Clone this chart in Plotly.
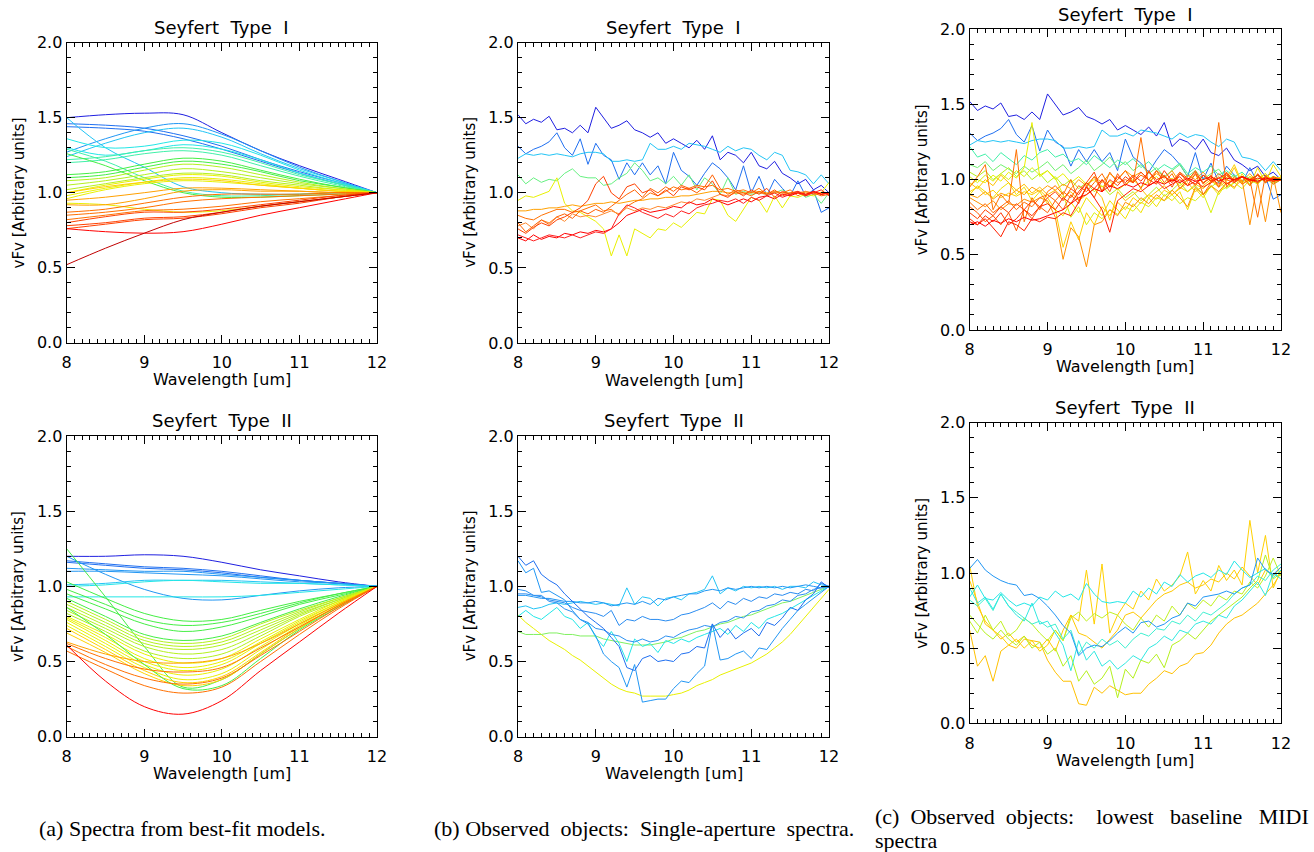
import plotly.graph_objects as go

# ---------------- DATA ----------------
WL_MODEL = [8.0, 8.5, 9.0, 9.5, 10.0, 10.5, 11.0, 11.5, 12.0]
WL_OBS = [8.0, 8.1, 8.2, 8.3, 8.4, 8.5, 8.6, 8.7, 8.8, 8.9,
          9.0, 9.1, 9.2, 9.3, 9.4, 9.5, 9.6, 9.7, 9.8, 9.9,
          10.0, 10.1, 10.2, 10.3, 10.4, 10.5, 10.6, 10.7, 10.8, 10.9,
          11.0, 11.1, 11.2, 11.3, 11.4, 11.5, 11.6, 11.7, 11.8, 11.9,
          12.0]

# colour names (IDL rainbow-like)
DB, MB, AZ, LB, CY = "#1f1fe0", "#1f6ff0", "#2196f3", "#22c4f5", "#22e6e6"
AQ, GR, YG, YE, GO = "#40f0a8", "#44ee44", "#b4f01e", "#e8f000", "#ffd000"
OR, DO, RO, RE, DR = "#ffa000", "#ff7000", "#ff4000", "#ff0000", "#c00000"

# (a) models, Seyfert type I
MODEL_T1 = [
    [1.50, 1.52, 1.53, 1.52, 1.40, 1.28, 1.18, 1.09, 1.00],
    [1.46, 1.45, 1.43, 1.38, 1.31, 1.22, 1.14, 1.07, 1.00],
    [1.44, 1.43, 1.41, 1.36, 1.29, 1.21, 1.13, 1.06, 1.00],
    [1.27, 1.36, 1.43, 1.46, 1.39, 1.28, 1.17, 1.08, 1.00],
    [1.24, 1.33, 1.40, 1.43, 1.37, 1.26, 1.16, 1.08, 1.00],
    [1.50, 1.30, 1.17, 1.04, 1.00, 0.99, 0.99, 1.00, 1.00],
    [1.36, 1.30, 1.31, 1.35, 1.33, 1.25, 1.15, 1.07, 1.00],
    [1.30, 1.25, 1.28, 1.32, 1.29, 1.22, 1.13, 1.06, 1.00],
    [1.22, 1.24, 1.28, 1.30, 1.27, 1.20, 1.12, 1.06, 1.00],
    [1.20, 1.22, 1.26, 1.28, 1.25, 1.18, 1.11, 1.05, 1.00],
    [1.29, 1.21, 1.10, 1.01, 0.98, 0.98, 0.99, 1.00, 1.00],
    [1.26, 1.18, 1.08, 1.00, 0.97, 0.97, 0.98, 0.99, 1.00],
    [1.12, 1.14, 1.19, 1.23, 1.21, 1.15, 1.09, 1.04, 1.00],
    [1.10, 1.12, 1.17, 1.21, 1.19, 1.14, 1.08, 1.04, 1.00],
    [1.08, 1.10, 1.15, 1.19, 1.17, 1.12, 1.07, 1.03, 1.00],
    [1.05, 1.08, 1.12, 1.16, 1.14, 1.10, 1.06, 1.03, 1.00],
    [1.02, 1.06, 1.10, 1.13, 1.12, 1.08, 1.05, 1.02, 1.00],
    [1.00, 1.05, 1.09, 1.12, 1.11, 1.07, 1.04, 1.02, 1.00],
    [0.98, 1.03, 1.07, 1.10, 1.09, 1.06, 1.03, 1.01, 1.00],
    [0.96, 1.02, 1.06, 1.08, 1.07, 1.05, 1.03, 1.01, 1.00],
    [0.93, 0.92, 0.89, 0.87, 0.88, 0.91, 0.94, 0.97, 1.00],
    [1.00, 1.04, 1.07, 1.09, 1.08, 1.05, 1.03, 1.01, 1.00],
    [0.95, 0.97, 1.00, 1.03, 1.03, 1.02, 1.01, 1.00, 1.00],
    [0.92, 0.92, 0.96, 1.01, 1.02, 1.01, 1.01, 1.00, 1.00],
    [0.87, 0.89, 0.93, 0.97, 0.99, 0.99, 0.99, 1.00, 1.00],
    [0.85, 0.87, 0.90, 0.94, 0.96, 0.97, 0.98, 0.99, 1.00],
    [0.82, 0.85, 0.88, 0.89, 0.91, 0.94, 0.96, 0.98, 1.00],
    [0.80, 0.84, 0.87, 0.87, 0.89, 0.92, 0.95, 0.98, 1.00],
    [0.78, 0.80, 0.83, 0.84, 0.87, 0.91, 0.94, 0.97, 1.00],
    [0.76, 0.79, 0.82, 0.83, 0.86, 0.90, 0.93, 0.97, 1.00],
    [0.76, 0.74, 0.73, 0.74, 0.79, 0.85, 0.90, 0.95, 1.00],
    [0.52, 0.63, 0.73, 0.82, 0.87, 0.91, 0.94, 0.97, 1.00],
]
MODEL_T1_COLORS = [DB, MB, MB, AZ, LB, LB, CY, CY, AQ, AQ, AQ, GR, GR, GR, YG, YG,
                   YG, YE, YE, YE, YE, GO, OR, OR, DO, DO, DO, RO, RO, RO, RE, DR]

# (a) models, Seyfert type II
MODEL_T2 = [
    [1.20, 1.20, 1.21, 1.20, 1.16, 1.11, 1.07, 1.03, 1.00],
    [1.17, 1.15, 1.13, 1.12, 1.10, 1.07, 1.04, 1.02, 1.00],
    [1.16, 1.14, 1.12, 1.11, 1.09, 1.06, 1.04, 1.02, 1.00],
    [1.12, 1.11, 1.10, 1.10, 1.08, 1.06, 1.04, 1.02, 1.00],
    [1.10, 1.10, 1.09, 1.08, 1.07, 1.05, 1.03, 1.02, 1.00],
    [1.20, 1.08, 0.98, 0.92, 0.91, 0.94, 0.97, 0.99, 1.00],
    [1.01, 1.02, 1.04, 1.04, 1.04, 1.03, 1.02, 1.01, 1.00],
    [1.00, 1.01, 1.03, 1.04, 1.03, 1.02, 1.02, 1.01, 1.00],
    [0.93, 0.93, 0.93, 0.93, 0.93, 0.94, 0.96, 0.98, 1.00],
    [1.25, 0.93, 0.60, 0.33, 0.38, 0.55, 0.72, 0.87, 1.00],
    [1.03, 0.92, 0.82, 0.77, 0.78, 0.84, 0.90, 0.95, 1.00],
    [0.98, 0.88, 0.78, 0.74, 0.76, 0.82, 0.89, 0.95, 1.00],
    [0.95, 0.85, 0.75, 0.70, 0.73, 0.80, 0.88, 0.94, 1.00],
    [0.92, 0.80, 0.68, 0.64, 0.67, 0.76, 0.85, 0.93, 1.00],
    [0.90, 0.78, 0.66, 0.62, 0.65, 0.75, 0.84, 0.92, 1.00],
    [0.88, 0.76, 0.64, 0.60, 0.63, 0.73, 0.83, 0.92, 1.00],
    [0.86, 0.74, 0.62, 0.58, 0.61, 0.71, 0.82, 0.91, 1.00],
    [0.84, 0.72, 0.60, 0.55, 0.58, 0.69, 0.81, 0.91, 1.00],
    [0.82, 0.70, 0.57, 0.52, 0.55, 0.67, 0.80, 0.90, 1.00],
    [0.80, 0.68, 0.55, 0.49, 0.52, 0.65, 0.78, 0.90, 1.00],
    [0.79, 0.66, 0.52, 0.46, 0.50, 0.63, 0.77, 0.89, 1.00],
    [0.78, 0.64, 0.50, 0.44, 0.48, 0.62, 0.76, 0.89, 1.00],
    [0.76, 0.62, 0.48, 0.41, 0.45, 0.60, 0.75, 0.88, 1.00],
    [0.74, 0.60, 0.46, 0.38, 0.42, 0.58, 0.74, 0.88, 1.00],
    [0.72, 0.58, 0.44, 0.36, 0.40, 0.56, 0.73, 0.87, 1.00],
    [0.69, 0.56, 0.42, 0.34, 0.38, 0.55, 0.72, 0.87, 1.00],
    [0.86, 0.68, 0.48, 0.32, 0.34, 0.52, 0.71, 0.86, 1.00],
    [0.63, 0.55, 0.50, 0.49, 0.52, 0.62, 0.75, 0.88, 1.00],
    [0.62, 0.52, 0.45, 0.43, 0.46, 0.59, 0.73, 0.87, 1.00],
    [0.60, 0.48, 0.39, 0.35, 0.39, 0.54, 0.70, 0.86, 1.00],
    [0.57, 0.45, 0.34, 0.29, 0.33, 0.50, 0.68, 0.85, 1.00],
    [0.61, 0.37, 0.20, 0.15, 0.24, 0.44, 0.63, 0.82, 1.00],
]
MODEL_T2_COLORS = [DB, MB, MB, AZ, AZ, AZ, LB, CY, CY, GR, GR, GR, GR, GR, YG, YG,
                   YG, YG, YG, YE, YE, YE, YE, YE, GO, GO, GR, OR, DO, DO, DO, RE]

# (b) single-aperture spectra, type I
SA_T1 = [
    [1.52, 1.46, 1.49, 1.47, 1.51, 1.42, 1.43, 1.40, 1.45, 1.40,
     1.57, 1.50, 1.43, 1.45, 1.48, 1.42, 1.40, 1.37, 1.40, 1.33,
     1.36, 1.33, 1.30, 1.35, 1.29, 1.38, 1.22, 1.27, 1.25, 1.20,
     1.27, 1.18, 1.16, 1.21, 1.13, 1.10, 1.06, 1.09, 1.02, 1.05, 1.00],
    [1.31, 1.26, 1.29, 1.31, 1.34, 1.40, 1.30, 1.25, 1.36, 1.19,
     1.33, 1.25, 1.22, 1.09, 1.20, 1.12, 1.20, 1.12, 1.18, 1.06,
     1.27, 1.15, 1.11, 1.05, 1.13, 1.20, 1.16, 1.10, 1.02, 1.18,
     1.00, 1.11, 0.98, 1.09, 1.03, 0.98, 1.08, 0.98, 1.02, 0.87, 0.90],
    [1.23, 1.26, 1.25, 1.26, 1.25, 1.26, 1.25, 1.24, 1.26, 1.27,
     1.27, 1.26, 1.21, 1.21, 1.22, 1.21, 1.22, 1.33, 1.29, 1.29,
     1.31, 1.29, 1.33, 1.32, 1.31, 1.29, 1.27, 1.31, 1.28, 1.30,
     1.29, 1.25, 1.22, 1.27, 1.25, 1.15, 1.14, 1.12, 1.06, 1.12, 1.06],
    [1.12, 1.06, 1.10, 1.07, 1.09, 1.08, 1.13, 1.16, 1.11, 1.10,
     1.10, 1.05, 1.06, 1.10, 1.13, 1.20, 1.15, 1.08, 1.10, 1.06,
     1.11, 1.05, 1.12, 1.02, 1.10, 1.06, 0.99, 1.10, 0.99, 1.01,
     0.99, 1.00, 0.99, 1.00, 1.02, 0.99, 1.01, 0.97, 0.99, 0.93, 1.00],
    [0.95, 0.98, 0.97, 0.99, 1.01, 1.10, 0.93, 0.88, 0.87, 0.84,
     0.81, 0.76, 0.58, 0.72, 0.58, 0.76, 0.73, 0.70, 0.76, 0.75,
     0.80, 0.77, 0.82, 0.87, 0.86, 0.96, 0.95, 0.85, 0.81, 0.89,
     0.97, 0.95, 0.87, 0.98, 0.90, 0.98, 0.97, 0.99, 0.98, 1.00, 1.07],
    [0.88, 0.88, 0.89, 0.89, 0.90, 0.90, 0.91, 0.92, 0.91, 0.92,
     0.93, 0.93, 0.94, 0.93, 0.94, 0.95, 0.95, 0.96, 0.96, 0.97,
     0.97, 0.98, 0.98, 0.99, 1.00, 1.01, 1.01, 1.00, 1.00, 1.00,
     1.00, 1.01, 1.00, 1.00, 1.00, 1.00, 1.00, 1.00, 1.00, 1.00, 1.00],
    [0.85, 0.83, 0.82, 0.85, 0.87, 0.89, 0.89, 0.87, 0.88, 0.90,
     0.92, 0.88, 0.89, 0.85, 0.91, 0.94, 0.96, 1.00, 0.98, 1.01,
     1.04, 1.02, 1.03, 1.05, 1.04, 1.05, 1.02, 1.03, 1.01, 1.02,
     1.00, 1.03, 0.99, 1.01, 1.00, 1.02, 0.98, 1.01, 0.99, 1.00, 0.99],
    [0.78, 0.80, 0.76, 0.82, 0.80, 0.84, 0.81, 0.86, 0.84, 0.85,
     0.84, 0.86, 0.88, 0.86, 0.90, 0.88, 0.90, 0.89, 0.91, 0.90,
     0.92, 0.94, 0.93, 0.96, 0.95, 0.97, 0.99, 0.98, 1.00, 0.99,
     1.01, 1.00, 0.99, 1.01, 1.00, 0.99, 1.00, 1.01, 1.00, 0.99, 1.00],
    [0.80, 0.74, 0.78, 0.82, 0.79, 0.84, 0.86, 0.83, 0.88, 0.86,
     0.89, 0.87, 0.91, 0.95, 0.99, 1.02, 0.97, 1.03, 1.00, 1.04,
     1.01, 1.05, 1.03, 1.00, 1.04, 1.12, 1.03, 0.99, 1.02, 1.00,
     0.98, 1.01, 0.99, 1.02, 0.98, 1.00, 1.01, 0.99, 1.00, 0.98, 0.99],
    [0.76, 0.73, 0.77, 0.80, 0.78, 0.82, 0.84, 0.87, 0.90, 0.95,
     1.06, 1.11, 1.00, 0.96, 1.04, 1.06, 1.00, 1.02, 0.98, 1.02,
     0.98, 1.04, 1.02, 1.04, 1.02, 1.08, 0.99, 0.97, 1.01, 0.98,
     1.02, 0.99, 1.03, 0.97, 1.01, 0.99, 1.00, 0.98, 1.01, 0.99, 1.00],
    [0.70, 0.68, 0.72, 0.69, 0.71, 0.70, 0.73, 0.72, 0.74, 0.73,
     0.75, 0.74, 0.76, 0.80, 0.85, 0.87, 0.89, 0.87, 0.88, 0.89,
     0.91, 0.90, 0.94, 0.92, 0.93, 0.96, 0.94, 0.92, 0.94, 0.96,
     0.94, 0.97, 0.98, 0.96, 0.99, 0.98, 1.00, 0.99, 1.01, 0.99, 1.00],
    [0.72, 0.70, 0.68, 0.70, 0.72, 0.71, 0.70, 0.72, 0.70, 0.72,
     0.74, 0.73, 0.76, 0.86, 0.92, 0.90, 0.87, 0.85, 0.83, 0.86,
     0.84, 0.88, 0.86, 0.90, 0.92, 0.93, 0.95, 0.94, 0.96, 0.93,
     0.97, 0.95, 0.98, 1.00, 0.97, 0.99, 1.01, 0.98, 1.00, 1.02, 0.98],
]
SA_T1_COLORS = [DB, MB, LB, "#66f080", YE, OR, DO, "#ff8a30", "#ff6000", RO, RE, "#ff2020"]

# (b) single-aperture spectra, type II
SA_T2 = [
    [0.81, 0.76, 0.72, 0.68, 0.64, 0.61, 0.58, 0.54, 0.51, 0.47,
     0.43, 0.39, 0.35, 0.32, 0.30, 0.29, 0.27, 0.27, 0.27, 0.27,
     0.28, 0.29, 0.31, 0.34, 0.36, 0.38, 0.41, 0.43, 0.45, 0.47,
     0.49, 0.52, 0.55, 0.59, 0.63, 0.68, 0.74, 0.80, 0.86, 0.92, 0.98],
    [0.70, 0.68, 0.68, 0.68, 0.69, 0.69, 0.68, 0.68, 0.67, 0.67,
     0.67, 0.65, 0.64, 0.63, 0.62, 0.61, 0.61, 0.61, 0.62, 0.63,
     0.65, 0.66, 0.68, 0.70, 0.71, 0.73, 0.75, 0.76, 0.78, 0.80,
     0.81, 0.83, 0.85, 0.87, 0.89, 0.90, 0.92, 0.94, 0.96, 0.98, 1.00],
    [0.80, 0.84, 0.80, 0.78, 0.82, 0.86, 0.80, 0.78, 0.72, 0.76,
     0.66, 0.60, 0.70, 0.62, 0.50, 0.65, 0.60, 0.62, 0.56, 0.64,
     0.62, 0.65, 0.63, 0.66, 0.68, 0.70, 0.72, 0.68, 0.74, 0.70,
     0.76, 0.72, 0.78, 0.80, 0.82, 0.85, 0.88, 0.91, 0.94, 0.97, 1.00],
    [0.86, 0.87, 0.85, 0.86, 0.88, 0.89, 0.88, 0.89, 0.90, 0.89,
     0.88, 0.89, 0.88, 0.87, 0.99, 0.88, 0.93, 0.92, 0.87, 0.92,
     0.93, 0.91, 0.95, 0.96, 0.98, 1.07, 0.95, 0.99, 0.97, 1.00,
     0.99, 1.00, 0.99, 1.00, 0.98, 1.00, 1.00, 0.99, 1.03, 1.01, 1.00],
    [0.94, 0.94, 0.93, 0.92, 0.92, 0.91, 0.90, 0.90, 0.89, 0.89,
     0.90, 0.89, 0.87, 0.88, 0.89, 0.88, 0.90, 0.88, 0.92, 0.91,
     0.93, 0.94, 0.95, 0.95, 0.97, 0.98, 0.97, 0.99, 0.98, 0.99,
     1.00, 0.99, 1.00, 0.99, 1.00, 0.99, 1.00, 1.01, 1.00, 0.99, 1.00],
    [0.95, 0.95, 0.94, 0.93, 0.91, 0.90, 0.89, 0.86, 0.84, 0.83,
     0.82, 0.80, 0.84, 0.74, 0.78, 0.77, 0.80, 0.78, 0.78, 0.77,
     0.78, 0.81, 0.82, 0.84, 0.86, 0.89, 0.85, 0.90, 0.88, 0.92,
     0.90, 0.93, 0.92, 0.95, 0.94, 0.96, 0.95, 0.98, 0.97, 1.02, 1.00],
    [0.98, 0.97, 0.94, 0.94, 0.90, 0.89, 0.85, 0.83, 0.78, 0.76,
     0.72, 0.71, 0.68, 0.67, 0.64, 0.63, 0.65, 0.63, 0.64, 0.67,
     0.66, 0.69, 0.71, 0.72, 0.74, 0.73, 0.76, 0.77, 0.80, 0.79,
     0.83, 0.84, 0.87, 0.88, 0.91, 0.90, 0.94, 0.95, 0.98, 0.99, 1.00],
    [1.17, 1.09, 1.12, 0.96, 0.97, 0.94, 0.91, 0.84, 0.78, 0.75,
     0.67, 0.55, 0.50, 0.46, 0.33, 0.48, 0.23, 0.24, 0.25, 0.25,
     0.32, 0.37, 0.36, 0.42, 0.47, 0.75, 0.51, 0.52, 0.55, 0.57,
     0.52, 0.59, 0.58, 0.65, 0.72, 0.78, 0.84, 0.88, 0.92, 0.96, 1.00],
    [1.20, 1.14, 1.17, 1.08, 1.04, 1.01, 0.95, 0.90, 0.85, 0.80,
     0.76, 0.72, 0.66, 0.60, 0.46, 0.44, 0.52, 0.54, 0.50, 0.51,
     0.50, 0.55, 0.56, 0.60, 0.59, 0.75, 0.66, 0.72, 0.65, 0.69,
     0.72, 0.67, 0.76, 0.74, 0.79, 0.86, 0.84, 0.91, 0.95, 1.03, 0.99],
]
SA_T2_COLORS = [YE, "#80f060", CY, LB, AZ, "#2a8cf0", "#2c90f0", AZ, MB]

# (c) MIDI spectra, type I: objects shared with (b) plus further objects
MIDI_T1_SHARED = [0, 1, 2]          # indices into SA_T1
MIDI_T1_EXTRA = [
    [1.22, 1.15, 1.17, 1.12, 1.18, 1.14, 1.10, 1.16, 1.13, 1.18,
     1.20, 1.15, 1.17, 1.12, 1.14, 1.10, 1.16, 1.12, 1.08, 1.13,
     1.10, 1.14, 1.08, 1.12, 1.06, 1.10, 1.07, 1.11, 1.04, 1.08,
     1.05, 1.09, 1.03, 1.06, 1.02, 1.05, 1.00, 1.03, 0.98, 1.02, 1.00],
    [1.10, 1.08, 1.12, 1.06, 1.10, 1.07, 1.04, 1.09, 1.05, 1.08,
     1.12, 1.06, 1.10, 1.04, 1.08, 1.13, 1.06, 1.10, 1.15, 1.08,
     1.12, 1.06, 1.10, 1.04, 1.08, 1.02, 1.06, 1.10, 1.02, 1.06,
     1.00, 1.04, 1.07, 1.00, 1.03, 0.98, 1.02, 0.99, 1.01, 0.97, 1.00],
    [1.05, 1.02, 1.06, 1.00, 1.04, 1.08, 1.02, 1.06, 1.00, 1.04,
     0.98, 1.02, 0.96, 1.00, 0.94, 0.98, 0.92, 0.96, 0.90, 0.94,
     0.88, 0.92, 0.86, 0.90, 0.95, 0.89, 0.93, 0.98, 0.92, 0.96,
     0.90, 0.95, 0.99, 0.94, 0.98, 1.02, 0.97, 1.00, 1.04, 0.98, 1.00],
    [0.96, 1.00, 0.98, 1.03, 0.99, 1.05, 1.01, 1.08, 1.38, 1.02,
     1.06, 1.00, 1.04, 0.98, 1.02, 0.97, 1.00, 0.95, 0.99, 0.93,
     0.97, 1.00, 0.95, 0.99, 1.02, 0.97, 1.01, 0.96, 1.00, 1.03,
     0.98, 1.02, 0.99, 1.04, 1.00, 1.02, 0.99, 1.03, 1.00, 1.02, 1.01],
    [1.02, 0.98, 1.03, 0.99, 1.04, 1.00, 1.06, 1.02, 1.08, 1.03,
     1.06, 1.01, 0.90, 0.75, 0.82, 0.70, 0.78, 0.74, 0.80, 0.77,
     0.82, 0.79, 0.85, 0.82, 0.88, 0.86, 0.90, 0.84, 0.88, 0.86,
     0.91, 0.78, 0.92, 0.95, 0.98, 0.94, 1.00, 0.97, 1.02, 0.99, 1.00],
    [0.90, 0.96, 0.92, 0.88, 0.94, 0.98, 0.90, 0.95, 0.86, 0.92,
     0.84, 0.80, 0.76, 0.85, 0.78, 0.88, 0.82, 0.76, 0.86, 0.80,
     0.74, 0.84, 0.78, 0.88, 0.82, 0.90, 0.86, 0.92, 0.80, 0.94,
     0.88, 0.96, 0.90, 0.98, 0.94, 1.04, 0.96, 1.08, 0.98, 1.10, 1.02],
    [0.92, 0.95, 0.90, 0.93, 0.88, 0.91, 0.89, 0.92, 0.90, 0.93,
     0.88, 0.80, 0.55, 0.72, 0.60, 0.78, 0.70, 0.82, 0.76, 0.85,
     0.80, 0.88, 0.84, 0.90, 0.87, 0.93, 0.90, 0.95, 0.92, 0.97,
     0.94, 0.99, 0.96, 1.01, 1.10, 0.98, 1.02, 1.00, 1.04, 0.99, 1.02],
    [0.98, 0.94, 1.00, 0.96, 1.03, 0.98, 0.93, 0.97, 0.91, 0.95,
     0.90, 0.93, 0.88, 0.92, 0.86, 0.90, 0.94, 0.88, 0.73, 0.92,
     0.86, 0.90, 0.94, 0.88, 0.92, 0.96, 0.90, 0.94, 0.98, 0.92,
     0.96, 1.00, 0.95, 0.99, 1.08, 0.97, 1.01, 0.98, 1.02, 0.99, 1.00],
    [0.90, 0.88, 0.92, 0.87, 0.91, 0.89, 0.93, 0.90, 0.95, 0.92,
     0.96, 0.93, 0.97, 0.94, 1.00, 0.96, 1.02, 0.98, 1.04, 1.00,
     1.06, 1.02, 1.05, 1.00, 1.04, 1.01, 1.06, 0.98, 1.03, 1.00,
     1.05, 0.99, 1.02, 0.97, 1.01, 0.99, 1.04, 0.98, 1.02, 1.00, 1.01],
    [0.88, 0.85, 0.82, 0.86, 0.80, 0.84, 0.83, 0.87, 0.85, 0.88,
     0.86, 0.75, 0.47, 0.68, 0.62, 0.42, 0.70, 0.72, 0.80, 0.76,
     0.85, 0.82, 0.88, 0.84, 0.90, 0.86, 0.93, 0.88, 0.82, 0.95,
     0.90, 0.96, 0.92, 0.98, 0.95, 1.00, 0.70, 0.98, 0.72, 1.02, 0.78],
    [0.95, 1.02, 1.10, 0.80, 0.90, 0.84, 1.20, 0.72, 0.88, 0.80,
     0.92, 0.96, 0.90, 1.00, 0.86, 0.95, 1.02, 0.92, 1.05, 0.98,
     1.00, 0.98, 1.28, 0.96, 1.06, 0.98, 1.04, 0.94, 1.00, 1.05,
     0.90, 0.98, 1.38, 0.95, 1.02, 0.97, 1.00, 0.75, 1.03, 0.97, 1.00],
    [0.85, 0.80, 0.84, 0.78, 0.82, 0.86, 0.80, 0.85, 0.82, 0.88,
     0.90, 0.86, 0.92, 0.88, 0.96, 0.92, 0.98, 1.04, 0.95, 1.00,
     1.06, 0.98, 1.03, 1.00, 1.06, 1.02, 0.99, 1.05, 1.01, 0.96,
     1.03, 0.99, 1.04, 1.00, 0.98, 1.02, 0.99, 1.03, 0.98, 1.01, 1.00],
    [0.82, 0.78, 0.72, 0.76, 0.70, 0.78, 0.66, 0.80, 0.74, 0.82,
     0.78, 0.86, 0.80, 0.90, 0.84, 0.96, 0.88, 1.00, 0.92, 1.04,
     0.96, 1.02, 0.94, 1.06, 0.98, 1.03, 0.95, 1.04, 0.99, 1.06,
     0.97, 1.03, 0.95, 1.05, 0.99, 1.02, 0.96, 1.04, 0.98, 1.02, 1.00],
    [0.78, 0.74, 0.80, 0.76, 0.82, 0.78, 0.84, 0.80, 0.86, 0.82,
     0.88, 0.92, 0.86, 0.94, 0.90, 0.98, 1.05, 0.92, 1.00, 0.96,
     1.02, 0.98, 1.05, 1.00, 0.97, 1.06, 0.99, 1.02, 0.96, 1.04,
     0.98, 1.01, 0.97, 1.03, 0.99, 1.02, 1.00, 0.98, 1.02, 0.99, 1.00],
    [0.74, 0.70, 0.76, 0.72, 0.78, 0.70, 0.74, 0.80, 0.76, 0.82,
     0.84, 0.80, 0.88, 0.84, 0.92, 0.98, 0.94, 1.00, 0.95, 1.02,
     0.98, 1.03, 0.99, 1.05, 1.00, 1.02, 0.98, 1.04, 1.00, 0.97,
     1.03, 0.99, 1.01, 1.04, 0.98, 1.02, 1.00, 1.03, 0.99, 1.01, 1.00],
    [0.72, 0.70, 0.74, 0.68, 0.62, 0.72, 0.70, 0.66, 0.74, 0.72,
     0.75, 0.74, 0.78, 0.76, 0.85, 0.95, 0.88, 0.80, 0.65, 0.86,
     0.90, 0.94, 0.92, 0.96, 0.99, 0.94, 0.97, 1.00, 0.96, 0.99,
     0.95, 0.98, 1.01, 0.97, 1.00, 1.02, 0.99, 1.01, 1.00, 0.99, 1.00],
    [0.70, 0.72, 0.69, 0.73, 0.71, 0.74, 0.72, 0.75, 0.73, 0.74,
     0.76, 0.78, 0.80, 0.84, 0.88, 0.90, 0.94, 0.92, 0.96, 0.94,
     0.97, 0.95, 0.98, 0.96, 0.99, 0.97, 1.00, 0.98, 1.01, 0.99,
     1.00, 1.02, 0.99, 1.01, 1.00, 1.02, 1.00, 0.99, 1.01, 1.00, 1.00],
]
MIDI_T1_EXTRA_COLORS = [AQ, "#70f070", YG, YE, "#d8f010", "#f0e000", GO, "#ffc000",
                        OR, "#ff9000", DO, "#ff6a00", "#ff5a00", RO, "#ff3000",
                        "#ff2000", RE]

# (c) MIDI spectra, type II
MIDI_T2 = [
    [0.62, 0.38, 0.45, 0.28, 0.48, 0.52, 0.50, 0.56, 0.55, 0.54,
     0.42, 0.34, 0.28, 0.28, 0.13, 0.12, 0.24, 0.20, 0.25, 0.22,
     0.19, 0.20, 0.20, 0.26, 0.30, 0.35, 0.33, 0.38, 0.40, 0.46,
     0.47, 0.52, 0.60, 0.66, 0.70, 0.72, 0.76, 0.80, 0.86, 0.92, 1.00],
    [1.05, 0.78, 0.68, 0.62, 0.58, 0.52, 0.56, 0.50, 0.55, 0.48,
     0.52, 0.62, 0.55, 0.72, 0.68, 1.02, 0.66, 1.06, 0.60, 0.72,
     0.80, 0.76, 0.88, 0.82, 0.96, 0.88, 0.92, 0.98, 1.14, 0.86,
     0.95, 0.88, 1.05, 0.95, 1.02, 0.92, 1.35, 1.00, 1.25, 0.90, 1.02],
    [0.95, 0.80, 0.66, 0.62, 0.56, 0.60, 0.54, 0.58, 0.52, 0.50,
     0.56, 0.48, 0.62, 0.72, 0.60, 0.58, 0.54, 0.50, 0.56, 0.62,
     0.72, 0.74, 0.70, 0.76, 0.82, 0.86, 0.88, 0.92, 0.94, 0.90,
     0.92, 0.96, 0.94, 1.00, 0.96, 1.04, 0.98, 0.92, 1.02, 0.98, 1.04],
    [0.72, 0.66, 0.60, 0.56, 0.62, 0.56, 0.52, 0.58, 0.50, 0.54,
     0.46, 0.50, 0.38, 0.45, 0.28, 0.35, 0.26, 0.30, 0.38, 0.17,
     0.36, 0.30, 0.42, 0.40, 0.46, 0.37, 0.52, 0.55, 0.60, 0.56,
     0.62, 0.68, 0.72, 0.76, 0.80, 0.84, 0.90, 0.95, 1.12, 0.96, 1.00],
    [0.68, 0.60, 0.72, 0.62, 0.68, 0.58, 0.62, 0.70, 0.66, 0.60,
     0.55, 0.62, 0.55, 0.70, 0.74, 0.68, 0.73, 0.70, 0.74, 0.72,
     0.66, 0.62, 0.70, 0.64, 0.72, 0.68, 0.78, 0.72, 0.80, 0.76,
     0.82, 0.78, 0.85, 0.82, 0.88, 0.86, 0.94, 0.90, 0.98, 1.10, 0.98],
    [0.82, 0.78, 0.83, 0.75, 0.86, 0.78, 0.74, 0.70, 0.66, 0.68,
     0.64, 0.66, 0.56, 0.62, 0.46, 0.54, 0.50, 0.56, 0.52, 0.55,
     0.50, 0.56, 0.60, 0.58, 0.63, 0.62, 0.68, 0.66, 0.72, 0.68,
     0.74, 0.72, 0.76, 0.80, 0.86, 0.90, 0.92, 0.98, 0.95, 1.02, 1.06],
    [0.90, 0.80, 0.84, 0.76, 0.86, 0.78, 0.72, 0.68, 0.80, 0.66,
     0.68, 0.60, 0.52, 0.35, 0.55, 0.42, 0.48, 0.38, 0.42, 0.36,
     0.40, 0.45, 0.42, 0.50, 0.53, 0.58, 0.55, 0.62, 0.60, 0.66,
     0.68, 0.66, 0.72, 0.70, 0.78, 0.82, 0.88, 0.94, 0.85, 1.00, 0.96],
    [0.84, 0.92, 0.83, 0.82, 0.87, 0.82, 0.78, 0.80, 0.78, 0.84,
     0.82, 0.88, 0.84, 0.86, 0.82, 0.93, 0.86, 0.81, 0.80, 0.81,
     0.80, 0.88, 0.84, 0.90, 0.86, 0.94, 0.91, 0.99, 0.94, 0.98,
     1.00, 0.97, 1.02, 0.99, 1.08, 1.02, 0.97, 1.00, 1.03, 0.97, 1.02],
    [1.03, 1.09, 1.02, 0.98, 0.95, 0.93, 0.92, 0.85, 0.86, 0.83,
     0.78, 0.72, 0.65, 0.60, 0.45, 0.50, 0.52, 0.51, 0.55, 0.60,
     0.64, 0.60, 0.67, 0.68, 0.64, 0.66, 0.70, 0.72, 0.80, 0.78,
     0.84, 0.85, 0.86, 0.88, 0.86, 0.90, 0.92, 1.10, 1.02, 0.99, 1.04],
]
MIDI_T2_COLORS = ["#ffc000", GO, "#ffc800", YG, "#c0f020", "#40f0d0", "#30e8e0", CY, AZ]

NB = "\u00a0"
CAPTIONS = ["(a) Spectra from best-fit models.",
            "(b)" + NB + "Observed" + NB * 2 + "objects:" + NB * 2 + "Single-aperture" + NB * 2 + "spectra.",
            "(c)" + NB * 2 + "Observed" + NB * 2 + "objects:" + NB * 4 + "lowest" + NB * 3
            + "baseline" + NB * 3 + "MIDI",
            "spectra"]
TITLE_T1 = "Seyfert  Type  I"
TITLE_T2 = "Seyfert  Type  II"
X_TITLE = "Wavelength [um]"
Y_TITLE = "vFv [Arbitrary units]"

# ---------------- FIGURE ----------------
W, H = 1314, 852
# plot-area boxes in pixels: (left, right, top, bottom)
BOXES = [
    (66.7, 377.0, 42.7, 342.7),   # a top
    (518.0, 829.0, 42.7, 343.0),  # b top
    (969.7, 1281.0, 29.3, 330.0), # c top
    (66.7, 377.0, 436.0, 736.7),  # a bottom
    (518.0, 829.0, 436.0, 736.7), # b bottom
    (969.7, 1281.0, 422.7, 723.3),# c bottom
]

fig = go.Figure()
TICKFONT = dict(family="DejaVu Sans", size=16, color="black")

for i, (l, r, t, b) in enumerate(BOXES):
    n = "" if i == 0 else str(i + 1)
    common = dict(showline=True, linecolor="black", linewidth=1.3, mirror="allticks",
                  ticks="inside", ticklen=8, tickwidth=1, tickcolor="black",
                  showgrid=False, zeroline=False, tickfont=TICKFONT, fixedrange=True,
                  automargin=False)
    fig.layout["xaxis" + n] = dict(common, domain=[l / W, r / W], anchor="y" + n,
                                   range=[8, 12], tick0=8, dtick=1,
                                   minor=dict(dtick=0.1, ticks="inside", ticklen=4,
                                              tickcolor="black", tickwidth=1, showgrid=False),
                                   ticklabelstandoff=5)
    fig.layout["yaxis" + n] = dict(common, domain=[1 - b / H, 1 - t / H], anchor="x" + n,
                                   range=[0, 2], tick0=0, dtick=0.5, tickformat=".1f",
                                   minor=dict(dtick=0.1, ticks="inside", ticklen=4,
                                              tickcolor="black", tickwidth=1, showgrid=False),
                                   ticklabelstandoff=0)


def add_lines(xs, series, colors, idx, shape="linear", width=1.0):
    n = "" if idx == 0 else str(idx + 1)
    for ys, c in zip(series, colors):
        fig.add_trace(go.Scatter(x=xs, y=ys, mode="lines",
                                 line=dict(color=c, width=width, shape=shape),
                                 xaxis="x" + n, yaxis="y" + n,
                                 showlegend=False, hoverinfo="skip"))


add_lines(WL_MODEL, MODEL_T1, MODEL_T1_COLORS, 0, shape="spline")
add_lines(WL_OBS, SA_T1, SA_T1_COLORS, 1)
add_lines(WL_OBS, [SA_T1[k] for k in MIDI_T1_SHARED],
          [SA_T1_COLORS[k] for k in MIDI_T1_SHARED], 2)
add_lines(WL_OBS, MIDI_T1_EXTRA, MIDI_T1_EXTRA_COLORS, 2)
add_lines(WL_MODEL, MODEL_T2, MODEL_T2_COLORS, 3, shape="spline")
add_lines(WL_OBS, SA_T2, SA_T2_COLORS, 4)
add_lines(WL_OBS, MIDI_T2, MIDI_T2_COLORS, 5)

ann = []
for i in range(6):
    n = "" if i == 0 else str(i + 1)
    title = TITLE_T1 if i < 3 else TITLE_T2
    ann.append(dict(text=title, xref="x" + n + " domain", yref="y" + n + " domain",
                    x=0.5, y=1, xanchor="center", yanchor="middle", yshift=15,
                    showarrow=False, font=dict(family="DejaVu Sans", size=18, color="black")))
    ann.append(dict(text=X_TITLE, xref="x" + n + " domain", yref="y" + n + " domain",
                    x=0.5, y=0, xanchor="center", yanchor="middle", yshift=-37,
                    showarrow=False, font=dict(family="DejaVu Sans", size=16, color="black")))
    ann.append(dict(text=Y_TITLE, xref="x" + n + " domain", yref="y" + n + " domain",
                    x=0, y=0.5, xanchor="center", yanchor="middle", xshift=-48,
                    textangle=-90, showarrow=False,
                    font=dict(family="DejaVu Sans", size=15, color="black")))

CAP_FONT = dict(family="Liberation Serif", size=22, color="black")
ann.append(dict(text=CAPTIONS[0], xref="paper", yref="paper", x=37 / W, y=1 - 828 / H,
                xanchor="left", yanchor="middle", showarrow=False, font=CAP_FONT))
ann.append(dict(text=CAPTIONS[1], xref="paper", yref="paper", x=432 / W, y=1 - 828 / H,
                xanchor="left", yanchor="middle", showarrow=False, font=CAP_FONT))
ann.append(dict(text=CAPTIONS[2], xref="paper", yref="paper", x=873 / W, y=1 - 816 / H,
                xanchor="left", yanchor="middle", showarrow=False, font=CAP_FONT))
ann.append(dict(text=CAPTIONS[3], xref="paper", yref="paper", x=873 / W, y=1 - 840 / H,
                xanchor="left", yanchor="middle", showarrow=False, font=CAP_FONT))

fig.update_layout(template="none", width=W, height=H, margin=dict(l=0, r=0, t=0, b=0),
                  paper_bgcolor="white", plot_bgcolor="white",
                  annotations=ann, showlegend=False)

# remove the browser's default 8px page margin so the figure fills the window
fig.write_html("out.html", config={"displayModeBar": False},
               post_script="document.body.style.margin='0px';document.body.style.overflow='hidden';")
